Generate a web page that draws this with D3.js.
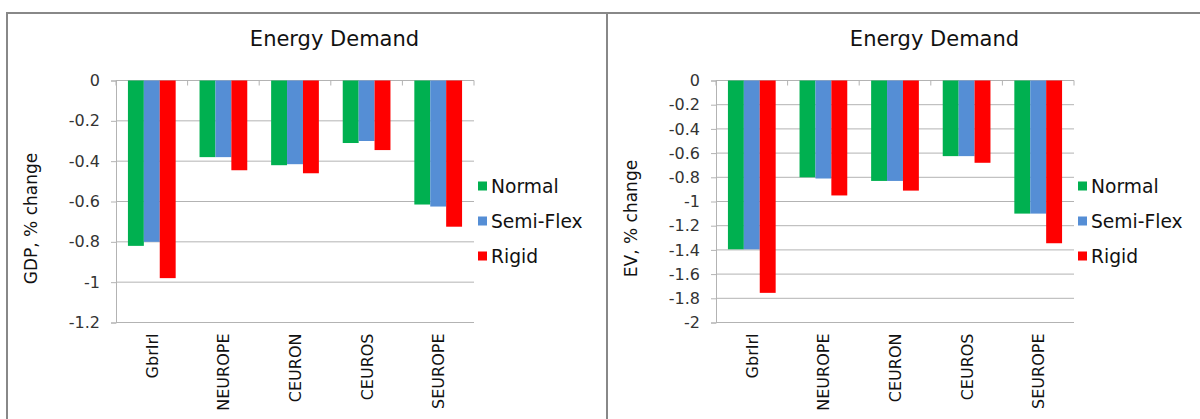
<!DOCTYPE html>
<html>
<head>
<meta charset="utf-8">
<script src="https://cdn.jsdelivr.net/npm/d3@7"></script>
<style>
  body { margin: 0; background: #fff; }
  svg { display: block; font-family: "DejaVu Sans", Verdana, sans-serif; }
</style>
</head>
<body>
<svg width="1200" height="419"></svg>
<script>
// regions along the x axis
var categories = ["GbrIrl", "NEUROPE", "CEURON", "CEUROS", "SEUROPE"];
var seriesNames = ["Normal", "Semi-Flex", "Rigid"];
var seriesColors = ["#00b050", "#558ed5", "#ff0000"];

// left chart: GDP, % change
var gdpNormal   = [-0.82, -0.38, -0.42, -0.31, -0.615];
var gdpSemiFlex = [-0.80, -0.38, -0.415, -0.30, -0.625];
var gdpRigid    = [-0.98, -0.445, -0.46, -0.345, -0.725];
var gdpTicks    = [0, -0.2, -0.4, -0.6, -0.8, -1, -1.2];

// right chart: EV, % change
var evNormal   = [-1.395, -0.80, -0.83, -0.625, -1.10];
var evSemiFlex = [-1.395, -0.81, -0.83, -0.625, -1.10];
var evRigid    = [-1.755, -0.95, -0.91, -0.68, -1.345];
var evTicks    = [0, -0.2, -0.4, -0.6, -0.8, -1, -1.2, -1.4, -1.6, -1.8, -2];

var svg = d3.select("svg");

// outer frame lines of the two chart boxes
svg.append("line").attr("x1", 7).attr("x2", 1200).attr("y1", 13).attr("y2", 13)
  .attr("stroke", "#888").attr("stroke-width", 2);
[7, 607].forEach(function(xx) {
  svg.append("line").attr("x1", xx).attr("x2", xx).attr("y1", 12).attr("y2", 419)
    .attr("stroke", "#888").attr("stroke-width", 2);
});

function fmt(d) {
  var s = String(+d.toFixed(1));
  return s === "-0" ? "0" : s;
}

function drawPanel(offsetX, values, ticks, yLabel) {
  var g = svg.append("g").attr("transform", "translate(" + offsetX + ",0)");

  var left = 116, right = 474, top = 80.5, bottom = 322.5;

  var x0 = d3.scaleBand().domain(categories).range([left, right])
      .paddingInner(1 / 3).paddingOuter(1 / 6);
  var x1 = d3.scaleBand().domain(seriesNames).range([0, x0.bandwidth()]);
  var y = d3.scaleLinear().domain([d3.min(ticks), 0]).range([bottom, top]);

  // title
  g.append("text").attr("x", 334.5).attr("y", 46)
    .attr("text-anchor", "middle").attr("font-size", 21).attr("fill", "#111")
    .text("Energy Demand");

  // gridlines
  g.selectAll(".grid").data(ticks).enter().append("line")
    .attr("class", "grid")
    .attr("x1", left).attr("x2", right)
    .attr("y1", function(d) { return y(d); })
    .attr("y2", function(d) { return y(d); })
    .attr("stroke", "#b3b3b3").attr("stroke-width", 1);

  // y axis
  var yAxis = g.append("g").attr("transform", "translate(" + left + ",0)")
    .call(d3.axisLeft(y).tickValues(ticks).tickSize(5).tickPadding(11).tickFormat(fmt));
  yAxis.select(".domain").attr("stroke", "#b3b3b3");
  yAxis.selectAll(".tick line").attr("stroke", "#b3b3b3");
  yAxis.selectAll("text").attr("font-size", 16).attr("fill", "#333")
    .attr("font-family", "DejaVu Sans");

  // category boundary ticks on the zero line
  var bounds = d3.range(categories.length + 1).map(function(i) { return left + i * x0.step(); });
  g.selectAll(".ctick").data(bounds).enter().append("line")
    .attr("class", "ctick")
    .attr("x1", function(d) { return d; }).attr("x2", function(d) { return d; })
    .attr("y1", y(0)).attr("y2", y(0) + 5)
    .attr("stroke", "#b3b3b3");

  // bars
  var rows = categories.map(function(c, i) {
    return { cat: c, vals: seriesNames.map(function(s, j) { return { s: s, v: values[j][i], c: seriesColors[j] }; }) };
  });
  var grp = g.selectAll(".grp").data(rows).enter().append("g")
    .attr("transform", function(d) { return "translate(" + x0(d.cat) + ",0)"; });
  grp.selectAll("rect").data(function(d) { return d.vals; }).enter().append("rect")
    .attr("x", function(d) { return x1(d.s); })
    .attr("y", y(0))
    .attr("width", x1.bandwidth())
    .attr("height", function(d) { return y(d.v) - y(0); })
    .attr("fill", function(d) { return d.c; });

  // category labels, rotated
  g.selectAll(".clabel").data(categories).enter().append("text")
    .attr("class", "clabel")
    .attr("transform", function(d) {
      return "translate(" + (x0(d) + x0.bandwidth() / 2 + 6) + "," + (bottom + 11) + ") rotate(-90)";
    })
    .attr("text-anchor", "end").attr("font-size", 16).attr("fill", "#111")
    .text(function(d) { return d; });

  // y axis title
  g.append("text")
    .attr("transform", "translate(37," + ((top + bottom) / 2 + 17) + ") rotate(-90)")
    .attr("text-anchor", "middle").attr("font-size", 17).attr("fill", "#111")
    .text(yLabel);

  // legend
  var leg = g.selectAll(".leg").data(seriesNames).enter().append("g")
    .attr("transform", function(d, i) { return "translate(478," + (186 + i * 35) + ")"; });
  leg.append("rect").attr("x", 0).attr("y", -4.5).attr("width", 9).attr("height", 9)
    .attr("fill", function(d, i) { return seriesColors[i]; });
  leg.append("text").attr("x", 13).attr("y", 6.5)
    .attr("font-size", 18.7).attr("fill", "#111")
    .text(function(d) { return d; });
}

drawPanel(0, [gdpNormal, gdpSemiFlex, gdpRigid], gdpTicks, "GDP, % change");
drawPanel(600, [evNormal, evSemiFlex, evRigid], evTicks, "EV, % change");
</script>
</body>
</html>
